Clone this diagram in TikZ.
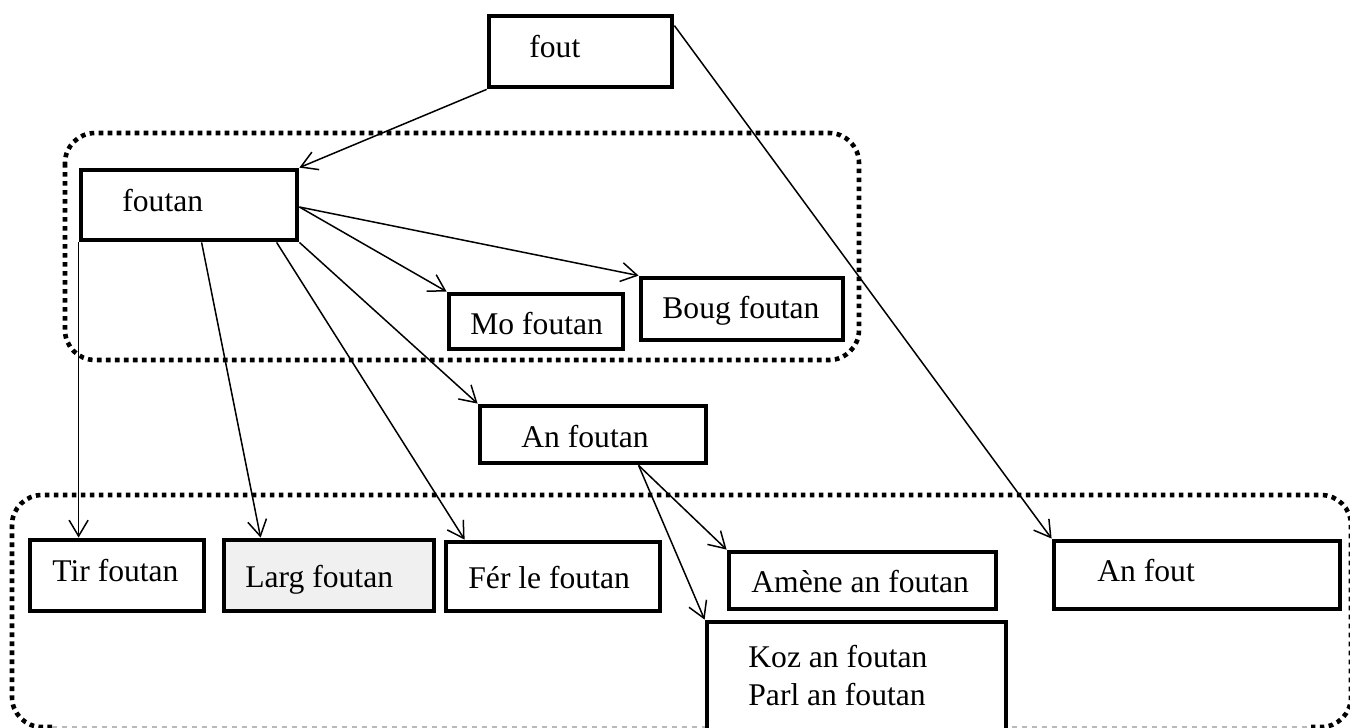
\documentclass[tikz,border=0pt]{standalone}
\usepackage{fontspec}
\setmainfont{Liberation Serif}
\usetikzlibrary{arrows.meta}
\definecolor{boxgray}{HTML}{F0F0F0}
\begin{document}
\begin{tikzpicture}[x=0.5pt,y=-0.5pt,
  box/.style={draw,line width=2.4pt,inner sep=0pt,fill=white},
  lbl/.style={inner sep=0pt,anchor=base west,font=\fontsize{15.8pt}{19pt}\selectfont},
  arr/.style={line width=0.75pt,-{Straight Barb[length=8pt,width=9.5pt]}},
  group/.style={line width=2.3pt,dash pattern=on 2.3pt off 2.2pt,rounded corners=15pt},
  edgeline/.style={gray!55,line width=0.6pt,dash pattern=on 2.5pt off 2.5pt}]
\useasboundingbox (0,0) rectangle (1350,728);

% dotted groupings
\draw[group] (65,133) rectangle (859,360);
\draw[group] (52,727) -- (12,727) -- (12,495) -- (1351,495) -- (1351,727) -- (1311,727);
\draw[edgeline] (52,727) -- (1311,727);

% boxes
\node[box,minimum width=91.5pt,minimum height=35.5pt] (fout) at (580.5,51.5) {};
\node[box,minimum width=108pt,minimum height=35pt] (foutan) at (189,205) {};
\node[box,minimum width=87pt,minimum height=27.5pt] (mo) at (536,321.5) {};
\node[box,minimum width=101pt,minimum height=31pt] (boug) at (742,309) {};
\node[box,minimum width=113pt,minimum height=28.5pt] (anfoutan) at (593,434.5) {};
\node[box,minimum width=87pt,minimum height=35.5pt] (tir) at (117,575.5) {};
\node[box,fill=boxgray,minimum width=105pt,minimum height=35.5pt] (larg) at (329,575.5) {};
\node[box,minimum width=107pt,minimum height=34.5pt] (fer) at (553,576.5) {};
\node[box,minimum width=133.5pt,minimum height=28.5pt] (amene) at (862.5,580.5) {};
\node[box,minimum width=149.5pt,minimum height=69pt] (koz) at (856.5,691) {};
\node[box,minimum width=143pt,minimum height=34pt] (anfout) at (1197,575) {};

% labels
\node[lbl] (t-fout) at (529,57) {fout};
\node[lbl] (t-foutan) at (122,211) {foutan};
\node[lbl] (t-mo) at (470,334) {Mo foutan};
\node[lbl] (t-boug) at (662,318) {Boug foutan};
\node[lbl] (t-anfoutan) at (521,447) {An foutan};
\node[lbl] (t-tir) at (52,581) {Tir foutan};
\node[lbl] (t-larg) at (245,587) {Larg foutan};
\node[lbl] (t-fer) at (468,588) {Fér le foutan};
\node[lbl] (t-amene) at (751,592) {Amène an foutan};
\node[lbl] (t-koz) at (748,667) {Koz an foutan};
\node[lbl] (t-parl) at (748,705) {Parl an foutan};
\node[lbl] (t-anfout) at (1097,581) {An fout};

% connectors
\draw[arr] (fout.south west) -- (foutan.north east);
\draw[arr] ([yshift=-6pt]fout.north east) -- (anfout.north west);
\draw[arr] ([yshift=-1pt]foutan.east) -- (mo.north west);
\draw[arr] ([yshift=-1pt]foutan.east) -- (boug.north west);
\draw[arr] (foutan.south east) -- (anfoutan.north west);
\draw[arr] (foutan.south west) -- (foutan.south west |- tir.north);
\draw[arr] ([xshift=61.5pt]foutan.south west) -- ([xshift=19.5pt]larg.north west);
\draw[arr] ([xshift=99pt]foutan.south west) -- ([xshift=10.5pt]fer.north west);
\draw[arr] ([xshift=80.5pt]anfoutan.south west) -- (amene.north west);
\draw[arr] ([xshift=80.5pt]anfoutan.south west) -- (koz.north west);
\end{tikzpicture}
\end{document}
